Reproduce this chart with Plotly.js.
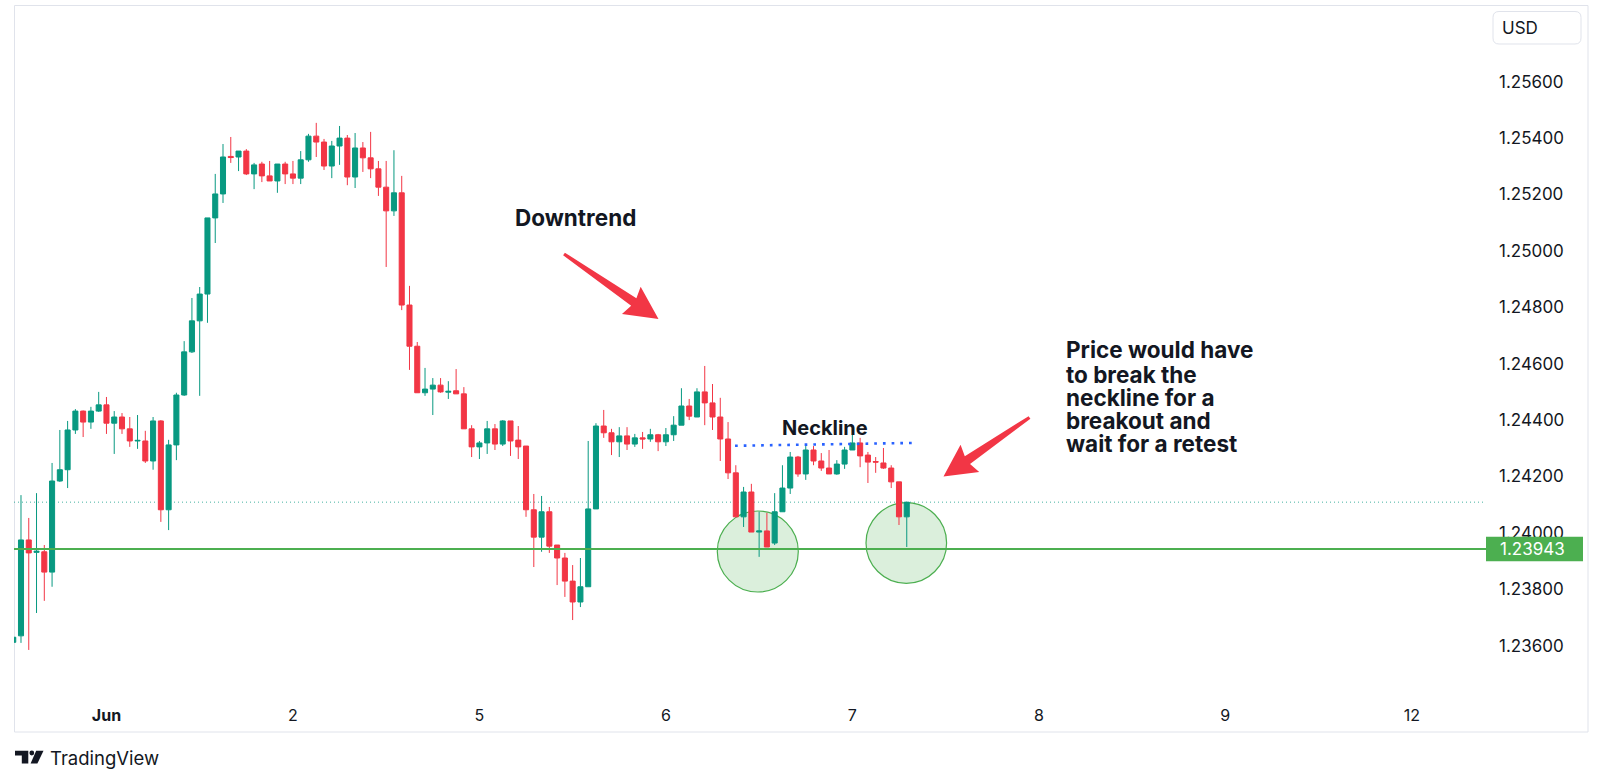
<!DOCTYPE html>
<html><head><meta charset="utf-8">
<script src="https://cdn.plot.ly/plotly-3.0.1.min.js"></script>
<style>html,body{margin:0;padding:0;background:#fff;}#chart{width:1600px;height:784px;}</style>
</head><body><div id="chart"></div>
<script>
// Hourly candles, 31 May 12:00 -> 7 Jun 07:00
const openPrices = [1.23612,1.23635,1.23975,1.23931,1.23933,1.23861,1.24184,1.24224,1.24365,1.24432,
 1.24393,1.24432,1.24454,1.24389,1.24411,1.24369,1.24326,1.24326,1.24255,1.24397,
 1.24082,1.24312,1.24489,1.24642,1.24752,1.24847,1.25117,1.25202,1.25335,1.25333,
 1.25354,1.25273,1.25308,1.25266,1.25248,1.25308,1.25273,1.25258,1.25323,1.25407,
 1.25386,1.25301,1.25372,1.25400,1.25262,1.25365,1.25330,1.25291,1.25226,1.25142,
 1.25206,1.24808,1.24662,1.24497,1.24510,1.24524,1.24499,1.24504,1.24493,1.24369,
 1.24305,1.24319,1.24369,1.24315,1.24397,1.24329,1.24308,1.24082,1.23985,1.24075,
 1.23957,1.23911,1.23829,1.23755,1.23809,1.24085,1.24379,1.24355,1.24323,1.24344,
 1.24315,1.24337,1.24333,1.24348,1.24323,1.24348,1.24382,1.24450,1.24411,1.24500,
 1.24461,1.24411,1.24333,1.24213,1.24057,1.24145,1.24003,1.24007,1.23964,1.24075,
 1.24159,1.24269,1.24209,1.24294,1.24255,1.24230,1.24209,1.24244,1.24294,1.24319,
 1.24276,1.24253,1.24248,1.24230,1.24181,1.24057];
const highPrices = [1.23645,1.24134,1.24053,1.24141,1.23957,1.24248,1.24365,1.24397,1.24439,1.24434,
 1.24447,1.24500,1.24482,1.24432,1.24425,1.24411,1.24418,1.24362,1.24411,1.24400,
 1.24330,1.24497,1.24680,1.24833,1.24872,1.25117,1.25273,1.25379,1.25404,1.25354,
 1.25361,1.25312,1.25316,1.25319,1.25308,1.25316,1.25319,1.25354,1.25415,1.25454,
 1.25397,1.25390,1.25443,1.25411,1.25418,1.25386,1.25422,1.25319,1.25319,1.25357,
 1.25266,1.24876,1.24677,1.24585,1.24549,1.24549,1.24538,1.24581,1.24517,1.24382,
 1.24326,1.24397,1.24386,1.24400,1.24397,1.24379,1.24308,1.24138,1.24131,1.24092,
 1.23957,1.23929,1.23886,1.23911,1.24326,1.24389,1.24436,1.24369,1.24375,1.24375,
 1.24351,1.24358,1.24369,1.24351,1.24372,1.24414,1.24513,1.24475,1.24513,1.24592,
 1.24528,1.24479,1.24393,1.24240,1.24163,1.24174,1.24075,1.24071,1.24141,1.24240,
 1.24287,1.24273,1.24308,1.24308,1.24283,1.24294,1.24258,1.24305,1.24382,1.24337,
 1.24287,1.24269,1.24301,1.24240,1.24181,1.24109];
const lowPrices = [1.23600,1.23610,1.23585,1.23716,1.23759,1.23809,1.24181,1.24159,1.24351,1.24340,
 1.24369,1.24429,1.24351,1.24280,1.24351,1.24305,1.24298,1.24248,1.24224,1.24039,
 1.24010,1.24258,1.24486,1.24638,1.24486,1.24745,1.25028,1.25170,1.25312,1.25283,
 1.25269,1.25219,1.25244,1.25248,1.25206,1.25237,1.25237,1.25237,1.25316,1.25333,
 1.25287,1.25258,1.25305,1.25233,1.25223,1.25280,1.25258,1.25195,1.24943,1.25124,
 1.24790,1.24578,1.24497,1.24486,1.24418,1.24497,1.24475,1.24493,1.24369,1.24269,
 1.24262,1.24280,1.24294,1.24308,1.24273,1.24262,1.24057,1.23879,1.23933,1.23929,
 1.23815,1.23773,1.23691,1.23737,1.23809,1.24085,1.24337,1.24276,1.24269,1.24294,
 1.24305,1.24298,1.24323,1.24290,1.24308,1.24326,1.24382,1.24400,1.24411,1.24382,
 1.24365,1.24255,1.24191,1.24057,1.24021,1.24003,1.23915,1.23950,1.23957,1.24075,
 1.24138,1.24199,1.24188,1.24240,1.24220,1.24209,1.24206,1.24227,1.24294,1.24233,
 1.24177,1.24213,1.24227,1.24159,1.24028,1.23950];
const closePrices = [1.23630,1.23975,1.23929,1.23935,1.23861,1.24184,1.24224,1.24365,1.24432,1.24393,
 1.24432,1.24454,1.24389,1.24411,1.24369,1.24326,1.24328,1.24255,1.24397,1.24082,
 1.24312,1.24489,1.24642,1.24752,1.24847,1.25117,1.25202,1.25333,1.25331,1.25354,
 1.25273,1.25305,1.25266,1.25248,1.25308,1.25273,1.25258,1.25323,1.25407,1.25386,
 1.25301,1.25372,1.25400,1.25262,1.25365,1.25330,1.25291,1.25226,1.25142,1.25206,
 1.24808,1.24662,1.24497,1.24510,1.24524,1.24500,1.24502,1.24493,1.24369,1.24305,
 1.24319,1.24369,1.24315,1.24397,1.24326,1.24305,1.24082,1.23985,1.24075,1.23953,
 1.23911,1.23829,1.23755,1.23809,1.24085,1.24379,1.24355,1.24323,1.24344,1.24315,
 1.24337,1.24333,1.24348,1.24323,1.24348,1.24382,1.24450,1.24414,1.24500,1.24461,
 1.24411,1.24333,1.24213,1.24057,1.24145,1.24003,1.24007,1.23950,1.24075,1.24159,
 1.24269,1.24209,1.24294,1.24255,1.24230,1.24209,1.24244,1.24294,1.24319,1.24273,
 1.24251,1.24251,1.24230,1.24181,1.24057,1.24109];
// day starts (hour-bar index) and their labels
const dayStartBars = [12,36,60,84,108,132,156,180];
const dayLabels = ['<b>Jun</b>','2','5','6','7','8','9','12'];
const priceTicks = [1.236,1.238,1.240,1.242,1.244,1.246,1.248,1.250,1.252,1.254,1.256];
const supportLevel = 1.23943;
const necklineLevels = [1.24309, 1.24319];

const bars = openPrices.map((_, i) => i);
const lastClose = closePrices[closePrices.length - 1];

// plot-area geometry (pixels)
const PL = 14, PR = 1486, PT = 5, PB = 690;
const PXPERPRICE = 28200;
const REFPY = 645.7, REFP = 1.236;
const yTop = REFP + (REFPY - PT) / PXPERPRICE;
const yBot = REFP + (REFPY - PB) / PXPERPRICE;
const xLeft = 0.1, xRight = 189.55;

const X = px => (px - PL) / (PR - PL);
const Y = py => (PB - py) / (PB - PT);
const P = (px, py) => X(px).toFixed(5) + ',' + Y(py).toFixed(5);

function arrowPath(tx, ty, hx, hy, headLen, headHalf, tailHalf, neckHalf) {
  const dx = hx - tx, dy = hy - ty, L = Math.hypot(dx, dy);
  const ux = dx / L, uy = dy / L, nx = -uy, ny = ux;
  const bx = hx - ux * headLen, by = hy - uy * headLen;
  const pts = [
    [tx + nx * tailHalf, ty + ny * tailHalf],
    [bx + nx * neckHalf, by + ny * neckHalf],
    [bx - ux * 3 + nx * headHalf, by - uy * 3 + ny * headHalf],
    [hx, hy],
    [bx - ux * 3 - nx * headHalf, by - uy * 3 - ny * headHalf],
    [bx - nx * neckHalf, by - ny * neckHalf],
    [tx - nx * tailHalf, ty - ny * tailHalf]
  ];
  return 'M' + pts.map(p => P(p[0], p[1])).join('L') + 'Z';
}
function roundRect(x0, y0, x1, y1, r) {
  return 'M' + P(x0 + r, y0) + 'L' + P(x1 - r, y0) + 'Q' + P(x1, y0) + ' ' + P(x1, y0 + r) +
    'L' + P(x1, y1 - r) + 'Q' + P(x1, y1) + ' ' + P(x1 - r, y1) +
    'L' + P(x0 + r, y1) + 'Q' + P(x0, y1) + ' ' + P(x0, y1 - r) +
    'L' + P(x0, y0 + r) + 'Q' + P(x0, y0) + ' ' + P(x0 + r, y0) + 'Z';
}
function circ(cx, cy, r) {
  return {type: 'circle', xref: 'paper', yref: 'paper', x0: X(cx - r), x1: X(cx + r), y0: Y(cy + r), y1: Y(cy - r),
    fillcolor: 'rgba(76,175,80,0.2)', line: {color: '#4caf50', width: 1.2}, layer: 'below'};
}

const FONT = 'Inter, "Noto Sans", Roboto, sans-serif';
const INK = '#131722';
const GREEN = '#089981', RED = '#f23645';

const trace = {
  type: 'candlestick', x: bars, open: openPrices, high: highPrices, low: lowPrices, close: closePrices,
  increasing: {line: {color: GREEN, width: 1}, fillcolor: GREEN},
  decreasing: {line: {color: RED, width: 1}, fillcolor: RED},
  whiskerwidth: 0, hoverinfo: 'skip', showlegend: false
};

const shapes = [
  {type: 'rect', xref: 'paper', yref: 'paper', x0: X(14.5), x1: X(1588), y0: Y(732), y1: Y(5.5),
   line: {color: '#e0e3eb', width: 1}, fillcolor: 'rgba(0,0,0,0)', layer: 'below'},
  circ(757.8, 551.5, 40.5),
  circ(906.3, 543, 40.3),
  {type: 'line', xref: 'paper', yref: 'y', x0: 0, x1: 1, y0: lastClose, y1: lastClose,
   line: {color: 'rgba(8,153,129,0.75)', width: 1, dash: '1px,3px'}, layer: 'below'},
  {type: 'line', xref: 'paper', yref: 'y', x0: 0, x1: 1, y0: supportLevel, y1: supportLevel,
   line: {color: '#4caf50', width: 2}, layer: 'above'},
  {type: 'line', xref: 'x', yref: 'y', x0: 92.9, x1: 115.8, y0: necklineLevels[0], y1: necklineLevels[1],
   line: {color: '#2962ff', width: 2.6, dash: '2.7px,6px'}, layer: 'above'},
  {type: 'rect', xref: 'paper', yref: 'y', x0: X(1486), x1: X(1583),
   y0: supportLevel - 12.2 / PXPERPRICE, y1: supportLevel + 12.2 / PXPERPRICE,
   line: {width: 0}, fillcolor: '#4caf50', layer: 'above'},
  {type: 'path', xref: 'paper', yref: 'paper', path: arrowPath(564, 254, 658.5, 319, 30, 16.5, 1.6, 4.6),
   fillcolor: RED, line: {width: 0}, layer: 'above'},
  {type: 'path', xref: 'paper', yref: 'paper', path: arrowPath(1029.5, 417.5, 943.5, 476.5, 29, 16.5, 1.6, 4.6),
   fillcolor: RED, line: {width: 0}, layer: 'above'},
  {type: 'path', xref: 'paper', yref: 'paper', path: roundRect(1493, 11.5, 1581, 44, 6),
   fillcolor: '#ffffff', line: {color: '#e0e3eb', width: 1}, layer: 'above'},
  // TradingView logo
  {type: 'path', xref: 'paper', yref: 'paper',
   path: 'M' + P(15, 750.7) + 'L' + P(28.3, 750.7) + 'L' + P(28.3, 763.5) + 'L' + P(21.8, 763.5) + 'L' + P(21.8, 755.6) + 'L' + P(15, 755.6) + 'Z',
   fillcolor: INK, line: {width: 0}},
  {type: 'circle', xref: 'paper', yref: 'paper', x0: X(29.4), x1: X(34.2), y0: Y(755.4), y1: Y(750.6),
   fillcolor: INK, line: {width: 0}},
  {type: 'path', xref: 'paper', yref: 'paper',
   path: 'M' + P(36.2, 750.7) + 'L' + P(43.5, 750.7) + 'L' + P(37.4, 763.5) + 'L' + P(30.6, 763.5) + 'Z',
   fillcolor: INK, line: {width: 0}}
];

function txt(text, px, py, size, extra) {
  return Object.assign({text: text, xref: 'paper', yref: 'paper', x: X(px), y: Y(py),
    xanchor: 'left', yanchor: 'middle', showarrow: false,
    font: {family: FONT, size: size, color: INK}}, extra || {});
}
const annotations = [
  txt('<b>Downtrend</b>', 513, 218, 22.5),
  txt('<b>Neckline</b>', 780, 428, 20),
  txt('<b>Price would have</b>', 1064, 350, 22.5),
  txt('<b>to break the</b>', 1064, 374, 22.5),
  txt('<b>neckline for a</b>', 1064, 397.5, 22.5),
  txt('<b>breakout and</b>', 1064, 420.8, 22.5),
  txt('<b>wait for a retest</b>', 1064, 443.3, 22.5),
  txt('USD', 1500, 28, 17),
  txt('TradingView', 48, 757.5, 18.5),
  {text: supportLevel.toFixed(5), xref: 'paper', yref: 'y', x: X(1498), y: supportLevel,
   xanchor: 'left', yanchor: 'middle', showarrow: false, font: {family: FONT, size: 17, color: '#ffffff'}}
];

const layout = {
  width: 1600, height: 784, autosize: false,
  margin: {l: PL, r: 1600 - PR, t: PT, b: 784 - PB, pad: 0},
  paper_bgcolor: '#ffffff', plot_bgcolor: '#ffffff',
  showlegend: false, dragmode: false,
  boxgap: 0.35, boxgroupgap: 0,
  font: {family: FONT, color: INK},
  xaxis: {range: [xLeft, xRight], tickmode: 'array', tickvals: dayStartBars, ticktext: dayLabels,
    showgrid: false, zeroline: false, showline: false, ticks: '', ticklabelstandoff: 14,
    tickfont: {family: FONT, size: 16, color: INK}, rangeslider: {visible: false}, fixedrange: true},
  yaxis: {side: 'right', range: [yBot, yTop], tickmode: 'array', tickvals: priceTicks,
    ticktext: priceTicks.map(v => v.toFixed(5)),
    showgrid: false, zeroline: false, showline: false, ticks: '', ticklabelstandoff: 12,
    tickfont: {family: FONT, size: 17, color: INK}, fixedrange: true},
  shapes: shapes,
  annotations: annotations
};

Plotly.newPlot('chart', [trace], layout, {staticPlot: true, displayModeBar: false});
</script>
</body></html>
